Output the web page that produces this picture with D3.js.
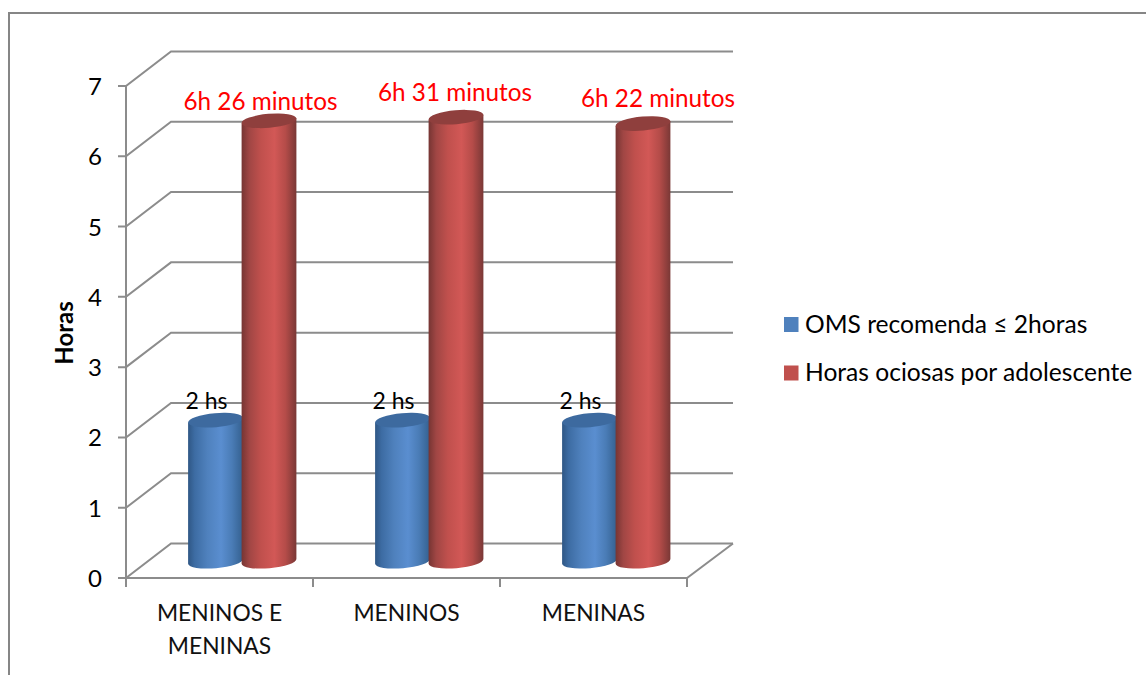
<!DOCTYPE html>
<html>
<head>
<meta charset="utf-8">
<style>
html,body{margin:0;padding:0;background:#fff}
svg{display:block}
text{font-family:Lato,"Open Sans",sans-serif}
</style>
<script src="https://cdn.jsdelivr.net/npm/d3@7"></script>
</head>
<body>
<svg id="chart" width="1146" height="675"></svg>
<script>
// Chart data
const categories = [["MENINOS E","MENINAS"],["MENINOS"],["MENINAS"]];
const yTicks = [0,1,2,3,4,5,6,7];
const seriesNames = ["OMS recomenda ≤ 2horas","Horas ociosas por adolescente"];
const recommended = [2,2,2];
const idleHours = [6.26,6.31,6.22];   // whole part = hours, decimals = minutes

const gray = "#8c8c8c";
const seriesColors = ["#4F81BD","#C0504D"];
const capColors = ["#3d6a9f","#8f3f3d"];

const svg = d3.select("#chart");

// Frame
svg.append("path").attr("d","M9 675V13H1146").attr("fill","none").attr("stroke","#868686").attr("stroke-width",2);

// Scales of the front plane of the 3D box
const y = d3.scaleLinear().domain([0,7]).range([578,86]);
const x = d3.scaleBand().domain(d3.range(categories.length)).range([126,687]);
const depth = {x:45,y:-34.5};
const mid = {x:depth.x/2,y:depth.y/2};

// Walls: one bent line per value tick
const grid = svg.append("g").attr("fill","none").attr("stroke",gray).attr("stroke-width",2);
yTicks.forEach(t=>{
  grid.append("path").attr("d",`M118 ${y(t)}H126L${126+depth.x} ${y(t)+depth.y}H733`);
});
grid.append("path").attr("d",`M126 ${y(7)}V${y(0)}H687L733 ${y(0)+depth.y}`);
d3.range(categories.length+1).forEach(i=>{
  const px = i<categories.length ? x(i) : x.range()[1];
  grid.append("path").attr("d",`M${px} ${y(0)}V587`);
});

// Value axis labels
svg.append("g").selectAll("text").data(yTicks).join("text")
  .attr("x",102).attr("y",d=>y(d)+9).attr("text-anchor","end")
  .attr("font-size",24).attr("fill","#000").text(d=>d);

svg.append("text").attr("transform","translate(73,333) rotate(-90)")
  .attr("text-anchor","middle").attr("font-size",24).attr("font-weight","bold").attr("fill","#000").text("Horas");

// Category labels
const catG = svg.append("g");
categories.forEach((lines,i)=>{
  lines.forEach((line,j)=>{
    catG.append("text").attr("x",x(i)+x.bandwidth()/2).attr("y",621+j*33)
      .attr("text-anchor","middle").attr("font-size",22.8).attr("fill","#111").text(line);
  });
});

// Horizontal shading of the cylinders
const defs = svg.append("defs");
const stops = [
 [[0,"#2f5785"],[0.12,"#3d6ca3"],[0.35,"#4f81bd"],[0.6,"#5a8ed0"],[0.8,"#4a7cb6"],[1,"#34608f"]],
 [[0,"#763533"],[0.14,"#a04644"],[0.35,"#c0504d"],[0.6,"#d25856"],[0.8,"#b54c49"],[1,"#7a3836"]]
];
stops.forEach((s,k)=>{
  const g = defs.append("linearGradient").attr("id","cyl"+k);
  s.forEach(([o,c])=>g.append("stop").attr("offset",o).attr("stop-color",c));
});

// Cylinders
const rx = 27.5, ry = 7, tilt = -5;
const tiltRad = tilt*Math.PI/180;
function cylinder(g,cx,value,k){
  const yTop = y(value)+mid.y, yBase = y(0)+mid.y;
  const ex = rx*Math.cos(tiltRad), ey = rx*Math.sin(tiltRad);
  const base = yBase+0.5;
  g.append("path")
    .attr("d",`M${cx-ex} ${yTop-ey}L${cx-ex} ${base-ey}A${rx} ${ry} ${tilt} 0 0 ${cx+ex} ${base+ey}L${cx+ex} ${yTop+ey}Z`)
    .attr("fill",`url(#cyl${k})`);
  g.append("ellipse").attr("cx",cx).attr("cy",yTop).attr("rx",rx).attr("ry",ry)
    .attr("transform",`rotate(${tilt} ${cx} ${yTop})`).attr("fill",capColors[k]);
}
const bars = svg.append("g");
categories.forEach((_,i)=>{
  const c = x(i)+x.bandwidth()/2+mid.x;
  cylinder(bars,c-26.5,recommended[i],0);
  cylinder(bars,c+27,idleHours[i],1);
});

// Value labels, each placed by hand near its cylinder
const idleLabelOffset = [[18.5,-11],[26,-16],[42,-16.5]];
const hoursText = v => {
  const [h,m] = v.toFixed(2).split(".");
  return `${h}h ${m} minutos`;
};
idleHours.forEach((v,i)=>{
  const c = x(i)+x.bandwidth()/2+mid.x;
  svg.append("text").attr("x",c+idleLabelOffset[i][0]).attr("y",y(v)+mid.y+idleLabelOffset[i][1])
    .attr("text-anchor","middle").attr("font-size",24.3).attr("fill","#ff0000").text(hoursText(v));
});
recommended.forEach((v,i)=>{
  const c = x(i)+x.bandwidth()/2+mid.x;
  svg.append("text").attr("x",c-35.5).attr("y",y(v)+mid.y-11)
    .attr("text-anchor","middle").attr("font-size",23).attr("fill","#000").text(`${v} hs`);
});

// Legend
const legendY = [324.5,373];
seriesNames.forEach((n,i)=>{
  svg.append("rect").attr("x",784).attr("y",legendY[i]-7.5).attr("width",14.5).attr("height",15).attr("fill",seriesColors[i]);
  svg.append("text").attr("x",805).attr("y",legendY[i]+8).attr("font-size",24.6).attr("fill","#000").text(n);
});
</script>
</body>
</html>
